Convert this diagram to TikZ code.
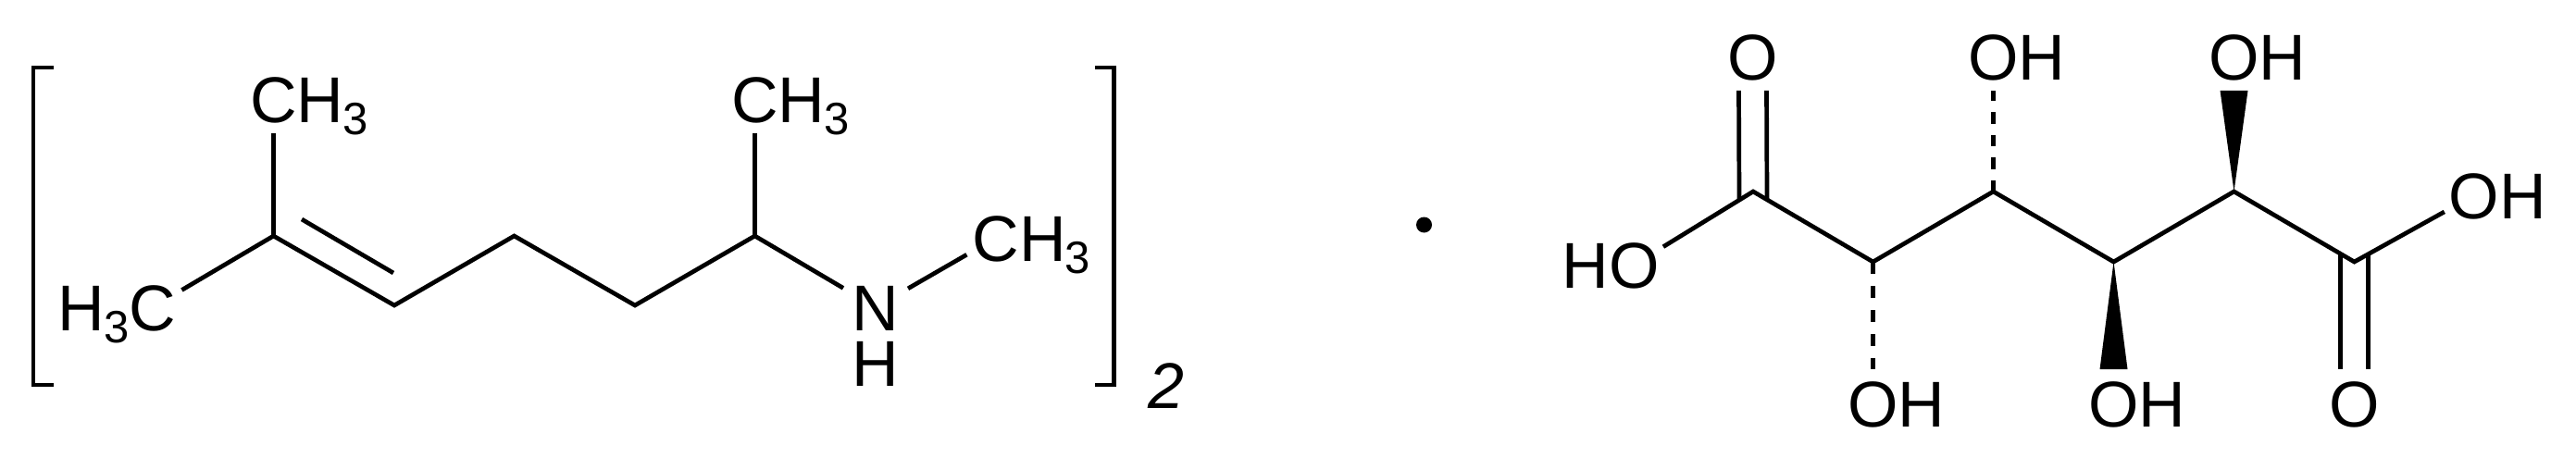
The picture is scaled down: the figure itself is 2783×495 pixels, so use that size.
\documentclass[tikz,border=0pt]{standalone}
\usepackage{fontspec}
\setmainfont{Liberation Sans}
\newcommand{\subthree}{\kern-1pt\raisebox{-13pt}{\fontsize{49}{49}\selectfont 3}}
\tikzset{
	atom/.style={circle, inner sep=0pt, outer sep=0pt, minimum size=73pt, text height=50pt, text depth=0pt, font=\fontsize{70}{84}\selectfont},
	amine/.style={atom, rectangle, minimum size=0pt, minimum width=70pt},
	bond/.style={line width=4.7pt},
	hashbond/.style={line width=5.3pt, dash pattern=#1},
	wedgebond/.style={fill=black}
}
\begin{document}
	\begin{tikzpicture}[x=1pt, y=-1pt]
		\useasboundingbox (0,0) rectangle (2783,495);
		%draw carbon skeletons
		\coordinate (a1) at (295.5,255);
		\coordinate (a2) at (426,330);
		\coordinate (a3) at (555.5,255);
		\coordinate (a4) at (686,330);
		\coordinate (a5) at (815.5,255);
		\coordinate (b1) at (1894,207);
		\coordinate (b2) at (2023.5,283);
		\coordinate (b3) at (2153.5,207);
		\coordinate (b4) at (2283.5,283);
		\coordinate (b5) at (2413.5,207);
		\coordinate (b6) at (2543.5,283);
		%draw labels
		\node (me1) [atom] at (295.5,107) {C\rlap{H\subthree}};
		\node (me2) [atom] at (165,332) {\llap{H\subthree\kern0pt}C};
		\node (me3) [atom] at (815.5,107) {C\rlap{H\subthree}};
		\node (nh) [amine] at (946,332) {N};
		\node (nh2) [amine, minimum width=0pt] at (946,392) {H};
		\node (me4) [atom] at (1076,257) {C\rlap{H\subthree}};
		\node (two) [atom, minimum size=0pt, anchor=base west, font=\fontsize{70}{84}\selectfont\itshape] at (1228,441) {2};
		\node (o1) [atom] at (1893.5,61) {O};
		\node (o2) [atom] at (1765.5,286) {\llap{H}O};
		\node (o3) [atom] at (2023.5,436) {O\rlap{H}};
		\node (o4) [atom] at (2153.5,61) {O\rlap{H}};
		\node (o5) [atom] at (2283.5,436) {O\rlap{H}};
		\node (o6) [atom] at (2413.5,61) {O\rlap{H}};
		\node (o7) [atom] at (2543.5,436) {O};
		\node (o8) [atom] at (2673,211) {O\rlap{H}};
		\node (dot) [circle, fill=black, inner sep=0pt, minimum size=17pt] at (1538.5,243) {};
		%draw brackets
		\draw [bond] (58,73) -- (36,73) -- (36,416) -- (58,416);
		\draw [bond] (1183,73) -- (1203.5,73) -- (1203.5,416) -- (1183,416);
		%draw bonds left
		\draw [bond] (me2) -- (a1) -- (a2) -- (a3) -- (a4) -- (a5) -- (nh);
		\draw [bond] (a1) -- (me1);
		\draw [bond] (a5) -- (me3);
		\draw [bond] (nh) -- (me4);
		\draw [bond] ([shift={(30.5,-18)}]a1) -- ([shift={(-1,-35)}]a2);
		%draw bonds right
		\draw [bond] (o2) -- (b1) -- (b2) -- (b3) -- (b4) -- (b5) -- (b6) -- (o8);
		\draw [bond] ([xshift=-15pt]o1.south) -- ([shift={(-15,9)}]b1);
		\draw [bond] ([xshift=15pt]o1.south) -- ([shift={(15,9)}]b1);
		\draw [bond] ([shift={(-15,-9)}]b6) -- ([xshift=-15pt]o7.north);
		\draw [bond] ([shift={(15,-9)}]b6) -- ([xshift=15pt]o7.north);
		\draw [hashbond={on 13pt off 13pt}] (b2) -- (o3);
		\draw [hashbond={on 12.5pt off 12pt}] (b3) -- (o4);
		%draw wedges
		\fill [wedgebond] (b4) -- ([xshift=15pt]o5.north) -- ([xshift=-15pt]o5.north) -- cycle;
		\fill [wedgebond] (b5) -- ([xshift=15pt]o6.south) -- ([xshift=-15pt]o6.south) -- cycle;
	\end{tikzpicture}
\end{document}
